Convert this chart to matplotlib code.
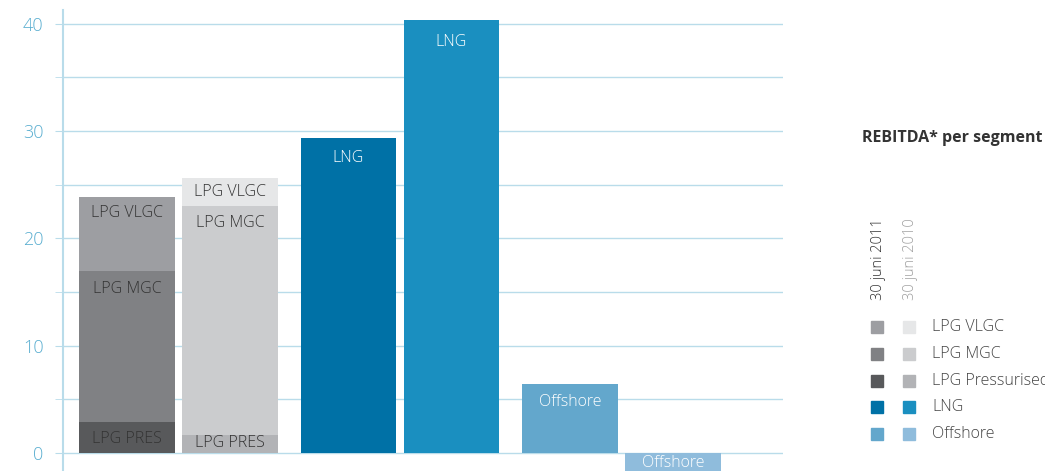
import matplotlib.pyplot as plt
from matplotlib.patches import Rectangle
import numpy as np

plt.rcParams['font.family'] = ['Open Sans', 'DejaVu Sans']

years = ['30 juni 2011', '30 juni 2010']
segments = ['LPG VLGC', 'LPG MGC', 'LPG Pressurised', 'LNG', 'Offshore']

# values per year: [2011, 2010]
lpg_pres = [2.9, 1.7]
lpg_mgc = [14.1, 21.3]
lpg_vlgc = [6.9, 2.6]
lng = [29.4, 40.4]
offshore = [6.4, -2.0]

colors_2011 = ['#9d9ea2', '#808184', '#58595b', '#0071a6', '#63a7cc']
colors_2010 = ['#e6e7e8', '#cbccce', '#b2b3b6', '#1a8fc0', '#8fbcdc']
grid_c = '#b9dcea'
tick_c = '#5aaed0'

fig = plt.figure(figsize=(10.45, 4.71), dpi=100)
ax = fig.add_axes([0.0603, 0.0, 0.689, 0.979])

off = 0.2325
w = 0.433
xs = [-off, off]

def label(x, top, txt, color, dy=-16):
    ax.annotate(txt, (x, top), xytext=(0, dy), textcoords='offset points',
                ha='center', va='center', fontsize=11.5, color=color,
                fontweight='light')

for i, x in enumerate(xs):
    cols = colors_2011 if i == 0 else colors_2010
    # LPG stack
    ax.bar(x, lpg_pres[i], w, color=cols[2], zorder=2)
    ax.bar(x, lpg_mgc[i], w, bottom=lpg_pres[i], color=cols[1], zorder=2)
    ax.bar(x, lpg_vlgc[i], w, bottom=lpg_pres[i] + lpg_mgc[i], color=cols[0], zorder=2)
    # LNG
    ax.bar(1 + x, lng[i], w, color=cols[3], zorder=2)
    # Offshore
    ax.bar(2 + x, offshore[i], w, color=cols[4], zorder=2)

# labels inside bars
label(xs[0], lpg_pres[0] + lpg_mgc[0] + lpg_vlgc[0], 'LPG VLGC', '#333333', -12)
label(xs[0], lpg_pres[0] + lpg_mgc[0], 'LPG MGC', '#333333', -13)
label(xs[0], lpg_pres[0], 'LPG PRES', '#333333', -12)
label(xs[1], lpg_pres[1] + lpg_mgc[1] + lpg_vlgc[1], 'LPG VLGC', '#333333', -10)
label(xs[1], lpg_pres[1] + lpg_mgc[1], 'LPG MGC', '#333333', -12)
label(xs[1], lpg_pres[1], 'LPG PRES', '#333333', -6)
label(1 + xs[0], lng[0], 'LNG', 'white', -15)
label(1 + xs[1], lng[1], 'LNG', 'white', -16)
label(2 + xs[0], offshore[0], 'Offshore', 'white', -13)
label(2 + xs[1], 0, 'Offshore', 'white', -7)

ax.set_xlim(-0.521, 2.729)
ax.set_ylim(-1.68, 41.3)
ax.set_yticks(np.arange(0, 41, 10))
ax.set_yticks(np.arange(0, 41, 5), minor=True)
ax.set_xticks([])
ax.grid(axis='y', which='both', color=grid_c, lw=1, zorder=0)
for s in ['top', 'right', 'bottom']:
    ax.spines[s].set_visible(False)
ax.spines['left'].set_color(grid_c)
ax.spines['left'].set_linewidth(1.5)
ax.tick_params(axis='y', which='both', length=6, color=grid_c, labelcolor=tick_c,
               labelsize=13, pad=8)
ax.tick_params(axis='y', which='minor', length=6)
for t in ax.get_yticklabels():
    t.set_fontweight('light')

# legend
W, H = 1045.0, 471.0
fig.text(862 / W, 1 - 138 / H, 'REBITDA* per segment', fontsize=11.5,
         fontweight='bold', color='#333333', ha='left', va='center')
fig.text(878 / W, 1 - 300 / H, years[0], rotation=90, fontsize=10.5,
         color='#333333', ha='center', va='bottom', fontweight='light')
fig.text(910 / W, 1 - 300 / H, years[1], rotation=90, fontsize=10.5,
         color='#a0a0a0', ha='center', va='bottom', fontweight='light')
row_y = [327, 354, 381, 407, 434]
sq = 12
for j, seg in enumerate(segments):
    yc = row_y[j]
    for xl, cols in [(871, colors_2011), (903, colors_2010)]:
        fig.patches.append(Rectangle((xl / W, 1 - (yc + sq / 2) / H), sq / W, sq / H,
                                     transform=fig.transFigure, color=cols[j]))
    fig.text(932 / W, 1 - yc / H, seg, fontsize=11.5, color='#444444',
             ha='left', va='center', fontweight='light')

fig.savefig('out.png', dpi=100)
